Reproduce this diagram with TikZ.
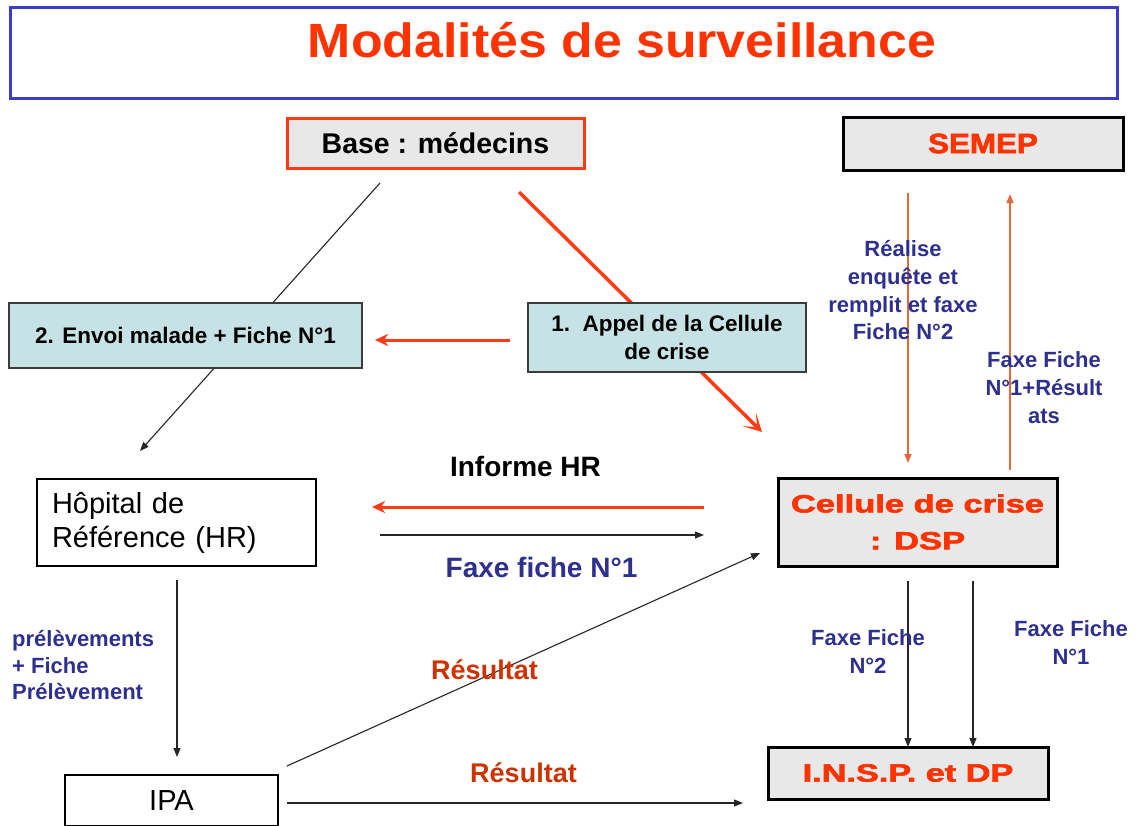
\documentclass[tikz,border=0pt]{standalone}
\usepackage{fontspec}
\setmainfont{Liberation Sans}
\newfontfamily\heavyfont{Liberation Sans Bold}[FakeBold=2.2]
\usetikzlibrary{arrows.meta,backgrounds}
\definecolor{titlered}{RGB}{255,51,0}
\definecolor{frameblue}{RGB}{60,60,200}
\definecolor{boxgray}{RGB}{232,232,232}
\definecolor{tealfill}{RGB}{198,226,228}
\definecolor{navy}{RGB}{46,48,140}
\definecolor{resred}{RGB}{204,51,0}
\definecolor{thinorange}{RGB}{225,105,60}
\definecolor{arrowred}{RGB}{255,60,20}
\definecolor{darkline}{RGB}{60,60,60}
\begin{document}
\begin{tikzpicture}[x=1pt,y=-1pt,
  grayred/.style={draw=arrowred, line width=3pt, fill=boxgray, outer sep=0pt, anchor=north west},
  grayblack/.style={draw=black, line width=3pt, fill=boxgray, outer sep=0pt, anchor=north west},
  tealbox/.style={draw=darkline, line width=1.2pt, fill=tealfill, outer sep=0pt, anchor=north west},
  whitebox/.style={draw=black, line width=2.5pt, fill=white, outer sep=0pt, anchor=north west},
  navylab/.style={text=navy, inner sep=0pt, font=\fontsize{22}{27.7}\selectfont\bfseries},
  blkarrow/.style={draw=black!85, line width=1.1pt, -{Triangle[length=9pt,width=7pt]}},
  redthick/.style={draw=arrowred, line width=3.5pt, -{Stealth[length=18pt,width=19pt,inset=11pt]}},
  redarrow/.style={draw=arrowred, line width=3pt, -{Stealth[length=13pt,width=12pt,inset=4pt]}},
  orangearrow/.style={draw=thinorange, line width=1.4pt, -{Triangle[length=9pt,width=7pt]}}
]
\useasboundingbox (0,0) rectangle (1141,825);

% title
\node[draw=frameblue, line width=3pt, minimum width=1107, minimum height=91, anchor=north west, outer sep=0pt] (frame) at (10,7) {};
\node[anchor=base, text=titlered, inner sep=0pt, font=\fontsize{48}{50}\selectfont\bfseries] (title) at (622,57) {\scalebox{1.08}[1]{Modalités de surveillance}};

% boxes
\node[grayred, minimum width=297, minimum height=50, font=\fontsize{28.5}{30}\selectfont\bfseries] (base) at (287,118) {Base : médecins};
\node[grayblack, minimum width=280, minimum height=53, text=titlered, font=\heavyfont\fontsize{28}{30}\selectfont] (semep) at (843,117) {\scalebox{1.12}[1]{SEMEP}};
\node[tealbox, minimum width=353, minimum height=65, font=\fontsize{22.5}{28}\selectfont\bfseries] (envoi) at (9,303) {2. Envoi malade + Fiche N°1};
\node[tealbox, minimum width=278, minimum height=69, align=center, font=\fontsize{22.5}{28}\selectfont\bfseries] (appel) at (528,303) {1.\ \ Appel de la Cellule\\de crise};
\node[whitebox, minimum width=279, minimum height=87, text width=249, align=left, inner xsep=15pt, inner ysep=0pt, font=\fontsize{29}{34}\selectfont] (hr) at (37,479) {Hôpital de\\Référence (HR)};
\node[grayblack, minimum width=279, minimum height=88, align=center, text=titlered, font=\heavyfont\fontsize{25}{37}\selectfont] (cellule) at (778,478) {\scalebox{1.38}[1]{Cellule de crise}\\\scalebox{1.38}[1]{: DSP}};
\node[grayblack, minimum width=280, minimum height=52, text=titlered, font=\heavyfont\fontsize{25}{30}\selectfont] (insp) at (768,747) {\scalebox{1.37}[1]{I.N.S.P. et DP}};
\node[whitebox, minimum width=213, minimum height=51.5, font=\fontsize{29}{34}\selectfont] (ipa) at (65,775) {IPA};

% labels
\node[navylab, align=center] (lreal) at (903,290.3) {Réalise\\enquête et\\remplit et faxe\\Fiche N°2};
\node[navylab, align=center] (lfaxres) at (1044,387.6) {Faxe Fiche\\N°1+Résult\\ats};
\node[navylab, align=center] (lfax2) at (868,651.6) {Faxe Fiche\\N°2};
\node[navylab, align=center] (lfax1) at (1071,642.6) {Faxe Fiche\\N°1};
\node[navylab, align=left, anchor=west, font=\fontsize{22}{26.5}\selectfont\bfseries] (lprel) at (12,665.3) {prélèvements\\+ Fiche\\Prélèvement};
\node[anchor=base, inner sep=0pt, font=\fontsize{28}{32}\selectfont\bfseries] (linf) at (525.5,476) {Informe HR};
\node[anchor=base, inner sep=0pt, text=navy, font=\fontsize{28}{32}\selectfont\bfseries] (lfaxhr) at (541.5,577) {Faxe fiche N°1};
\node[anchor=base, inner sep=0pt, text=resred, font=\fontsize{27}{32}\selectfont\bfseries] (lres1) at (484.5,679) {Résultat};
\node[anchor=base, inner sep=0pt, text=resred, font=\fontsize{27}{32}\selectfont\bfseries] (lres2) at (523.5,782) {Résultat};

% connector end points
\coordinate (b1) at (380,183); \coordinate (h1) at (140,451);
\coordinate (b2) at (519,192); \coordinate (c1) at (762,432);
\coordinate (a1) at (510,340); \coordinate (e1) at (375,340);
\coordinate (c2) at (704,507); \coordinate (h2) at (372,507);
\coordinate (h3) at (380,535); \coordinate (c3) at (704,535);
\coordinate (h4) at (177,580); \coordinate (i1) at (177,757);
\coordinate (i2) at (287,766); \coordinate (c4) at (760,553);
\coordinate (i3) at (287,803); \coordinate (n1) at (743,803);
\coordinate (s1) at (908,193); \coordinate (c5) at (908,463);
\coordinate (c6) at (1010,470); \coordinate (s2) at (1010,194);
\coordinate (c7) at (908,581); \coordinate (n2) at (908,747);
\coordinate (c8) at (973,581); \coordinate (n3) at (973,747);

\begin{scope}[on background layer]
\fill[white] (0,0) rectangle (1141,825);
\draw[blkarrow] (b1) -- (h1);
\draw[redthick] (b2) -- (c1);
\draw[redarrow] (a1) -- (e1);
\draw[redarrow] (c2) -- (h2);
\draw[blkarrow] (h3) -- (c3);
\draw[blkarrow] (h4) -- (i1);
\draw[blkarrow] (i2) -- (c4);
\draw[blkarrow] (i3) -- (n1);
\draw[orangearrow] (s1) -- (c5);
\draw[orangearrow] (c6) -- (s2);
\draw[blkarrow] (c7) -- (n2);
\draw[blkarrow] (c8) -- (n3);
\end{scope}
\end{tikzpicture}
\end{document}
